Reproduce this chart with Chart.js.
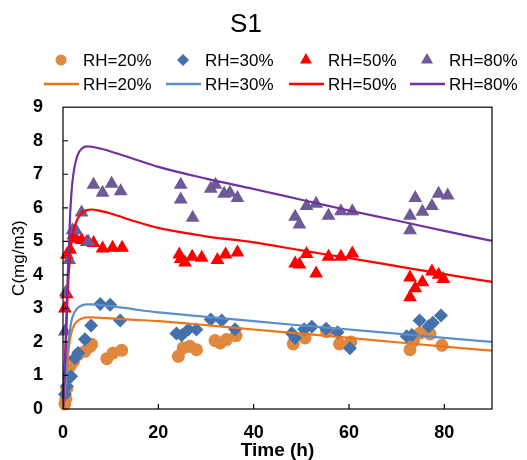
<!DOCTYPE html>
<html>
<head>
<meta charset="utf-8">
<title>S1</title>
<script src="https://cdn.jsdelivr.net/npm/chart.js"></script>
<style>
  body { margin: 0; background: #fff; }
  #wrap { width: 527px; height: 460px; }
</style>
</head>
<body>
<div id="wrap"><canvas id="chart"></canvas></div>
<script>
// measured points (time in h, concentration in mg/m3)
const t20 = [0.4, 0.6, 0.8, 1.5, 2.2, 3.2, 4.6, 5.7, 6.0, 9.2, 10.5, 12.3, 24.2, 25.2, 26.6, 28.0, 31.9, 33.0, 34.3, 36.3, 48.3, 50.8, 55.3, 58.0, 60.4, 72.8, 73.5, 74.9, 77.0, 79.5];
const c20 = [0.15, 0.3, 0.62, 1.28, 1.42, 1.63, 1.72, 1.87, 1.93, 1.5, 1.67, 1.75, 1.57, 1.82, 1.87, 1.77, 2.04, 1.97, 2.07, 2.19, 1.94, 2.12, 2.31, 1.94, 2.0, 1.77, 2.02, 2.26, 2.24, 1.9];

const t30 = [0.4, 0.8, 1.3, 1.7, 2.5, 3.2, 4.6, 5.9, 7.8, 9.9, 12.0, 23.8, 24.9, 26.3, 28.0, 31.0, 33.3, 36.1, 48.0, 48.7, 50.6, 52.2, 55.2, 57.6, 60.2, 72.1, 73.2, 74.8, 76.7, 77.6, 79.3];
const c30 = [0.44, 0.68, 0.93, 0.98, 1.52, 1.67, 2.08, 2.49, 3.13, 3.11, 2.64, 2.25, 2.2, 2.37, 2.37, 2.67, 2.64, 2.38, 2.26, 2.12, 2.38, 2.45, 2.39, 2.29, 1.81, 2.17, 2.21, 2.64, 2.47, 2.57, 2.79];

const t50 = [0.4, 0.8, 0.8, 1.5, 2.2, 2.6, 3.9, 5.0, 6.4, 8.3, 10.4, 12.4, 24.4, 24.7, 25.6, 27.1, 29.1, 32.4, 34.1, 36.6, 48.7, 49.6, 51.1, 53.1, 55.7, 58.3, 60.7, 72.8, 72.8, 73.9, 75.4, 77.4, 78.8, 79.8];
const c50 = [3.0, 3.42, 4.6, 4.75, 5.18, 5.08, 5.04, 4.98, 4.95, 4.79, 4.81, 4.81, 4.61, 4.47, 4.37, 4.54, 4.51, 4.44, 4.61, 4.67, 4.34, 4.31, 4.62, 4.04, 4.54, 4.54, 4.64, 3.92, 3.33, 3.6, 3.78, 4.1, 4.0, 3.88];

const t80 = [0.4, 0.6, 1.3, 2.0, 2.7, 3.9, 5.3, 6.4, 8.3, 10.2, 12.1, 24.7, 24.7, 27.2, 31.0, 32.0, 33.8, 35.0, 36.6, 48.7, 49.6, 51.1, 53.1, 55.7, 58.3, 60.7, 72.8, 72.8, 73.9, 75.4, 77.4, 78.8, 80.7];
const c80 = [2.31, 3.48, 4.44, 5.33, 5.33, 5.86, 4.99, 6.69, 6.45, 6.72, 6.49, 6.69, 6.25, 5.7, 6.57, 6.69, 6.42, 6.45, 6.29, 5.73, 5.5, 6.05, 6.12, 5.76, 5.9, 5.9, 5.33, 5.76, 6.29, 5.88, 6.05, 6.42, 6.37];

// model curves
const tFit = [0, 0.5, 1, 1.5, 2, 3, 4, 5, 6, 8, 10, 15, 20, 30, 40, 50, 60, 70, 80, 90];
const fit20 = [0, 0.7, 1.55, 2.1, 2.4, 2.62, 2.7, 2.73, 2.73, 2.72, 2.7, 2.66, 2.62, 2.5, 2.37, 2.25, 2.12, 1.99, 1.86, 1.74];
const fit30 = [0, 0.8, 1.8, 2.4, 2.75, 3.0, 3.09, 3.12, 3.12, 3.1, 3.07, 2.97, 2.88, 2.75, 2.62, 2.49, 2.37, 2.25, 2.12, 2.0];
const fit50 = [0, 1.6, 3.5, 4.6, 5.2, 5.65, 5.85, 5.93, 5.95, 5.9, 5.83, 5.6, 5.4, 5.15, 4.97, 4.73, 4.5, 4.26, 4.02, 3.79];
const fit80 = [0, 1.8, 4.0, 5.8, 6.8, 7.55, 7.77, 7.83, 7.82, 7.76, 7.68, 7.45, 7.22, 6.87, 6.56, 6.24, 5.92, 5.62, 5.31, 5.01];

const labels = ['RH=20%', 'RH=30%', 'RH=50%', 'RH=80%'];
const dotColors = ['#E0883F', '#4471AC', '#FF0000', '#6F5A98'];
const dotStyles = ['circle', 'rectRot', 'triangle', 'triangle'];
const dotSizes = [6.5, 7, 8, 8];
const lineColors = ['#EA761E', '#5B8FCB', '#FF0000', '#7032A0'];

const pts = (xs, ys) => xs.map((x, i) => ({ x: x, y: ys[i] }));
const obsT = [t20, t30, t50, t80];
const obsC = [c20, c30, c50, c80];
const fits = [fit20, fit30, fit50, fit80];

const datasets = [];
labels.forEach((lab, i) => {
    datasets.push({
        label: lab,
        data: pts(obsT[i], obsC[i]),
        showLine: false,
        pointStyle: dotStyles[i],
        pointRadius: dotSizes[i],
        pointBorderWidth: 0,
        backgroundColor: dotColors[i],
        borderColor: dotColors[i],
        clip: false,
        order: 10 - i
    });
});
labels.forEach((lab, i) => {
    datasets.push({
        label: lab,
        data: pts(tFit, fits[i]),
        showLine: true,
        pointRadius: 0,
        borderWidth: 2.2,
        borderColor: lineColors[i],
        backgroundColor: lineColors[i],
        cubicInterpolationMode: 'monotone',
        order: 4 - i
    });
});

// two-row legend like the original (markers on top, fitted lines below)
const legendRows = {
    id: 'legendRows',
    afterDraw(chart) {
        const ctx = chart.ctx;
        const cols = [83, 205, 328, 449];
        const legendSizes = [5.5, 6, 7, 7];
        ctx.save();
        ctx.font = '17px "Liberation Sans", Arial, sans-serif';
        ctx.textBaseline = 'middle';
        chart.data.datasets.forEach((ds, i) => {
            const x = cols[i % 4];
            const y = i < 4 ? 60 : 84;
            if (ds.showLine) {
                ctx.strokeStyle = ds.borderColor;
                ctx.lineWidth = 2.5;
                ctx.beginPath();
                ctx.moveTo(x - 39, y);
                ctx.lineTo(x - 4, y);
                ctx.stroke();
            } else {
                ctx.fillStyle = ds.backgroundColor;
                Chart.helpers.drawPoint(ctx, { pointStyle: ds.pointStyle, radius: legendSizes[i], borderWidth: 0, rotation: 0 }, x - 22, y);
            }
            ctx.fillStyle = '#000';
            ctx.fillText(ds.label, x, y + 1);
        });
        ctx.restore();
    }
};

// box around the plot and inward tick marks
const frame = {
    id: 'frame',
    afterDraw(chart) {
        const { ctx, chartArea: a, scales } = chart;
        ctx.save();
        ctx.strokeStyle = '#000';
        ctx.lineWidth = 1.2;
        ctx.strokeRect(a.left, a.top, a.right - a.left, a.bottom - a.top);
        ctx.beginPath();
        scales.x.ticks.forEach(t => {
            const px = scales.x.getPixelForValue(t.value);
            if (px <= a.left + 1 || px >= a.right - 1) return;
            ctx.moveTo(px, a.bottom);
            ctx.lineTo(px, a.bottom - 5);
        });
        scales.y.ticks.forEach(t => {
            const py = scales.y.getPixelForValue(t.value);
            if (py <= a.top + 1 || py >= a.bottom - 1) return;
            ctx.moveTo(a.left, py);
            ctx.lineTo(a.left + 5, py);
        });
        ctx.stroke();
        ctx.restore();
    }
};

Chart.defaults.font.family = '"Liberation Sans", Arial, sans-serif';
Chart.defaults.color = '#000';

new Chart(document.getElementById('chart'), {
    type: 'scatter',
    data: { datasets: datasets },
    plugins: [legendRows, frame],
    options: {
        responsive: true,
        maintainAspectRatio: false,
        animation: false,
        layout: { padding: { left: 0, right: 35, top: 0, bottom: 0 } },
        plugins: {
            legend: { display: false },
            tooltip: { enabled: false },
            title: {
                display: true,
                text: 'S1',
                font: { size: 26, weight: 'normal' },
                color: '#000',
                padding: { top: 9, bottom: 67 }
            }
        },
        scales: {
            x: {
                type: 'linear',
                min: 0,
                max: 90,
                grid: { display: false },
                border: { display: false },
                ticks: {
                    stepSize: 20,
                    includeBounds: false,
                    maxRotation: 0,
                    padding: 5,
                    font: { size: 18, weight: 'bold' }
                },
                title: {
                    display: true,
                    text: 'Time (h)',
                    font: { size: 19, weight: 'bold', lineHeight: 1 },
                    padding: { top: 0, bottom: 0 }
                },
                afterFit(scale) { scale.height = 51; }
            },
            y: {
                min: 0,
                max: 9,
                grid: { display: false },
                border: { display: false },
                ticks: {
                    stepSize: 1,
                    padding: 12,
                    font: { size: 18, weight: 'bold' }
                },
                title: {
                    display: true,
                    text: 'C(mg/m3)',
                    font: { size: 17, weight: 'normal' },
                    padding: { top: 9, bottom: 0 }
                },
                afterFit(scale) { scale.width = 63; }
            }
        }
    }
});
</script>
</body>
</html>
